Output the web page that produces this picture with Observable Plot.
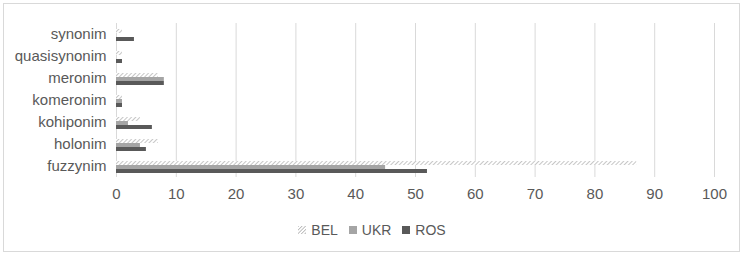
<!DOCTYPE html>
<html>
<head>
<meta charset="utf-8">
<script src="https://cdn.jsdelivr.net/npm/d3@7"></script>
<script src="https://cdn.jsdelivr.net/npm/@observablehq/plot@0.6"></script>
<style>
  html, body { margin: 0; padding: 0; background: #fff; }
  body { width: 744px; height: 256px; position: relative; overflow: hidden;
         font-family: "Liberation Sans", Arial, sans-serif; color: #595959; }
  #frame { position: absolute; left: 3px; top: 3px; width: 737px; height: 249px;
           border: 1px solid #d9d9d9; box-sizing: border-box; }
  #chart { position: absolute; left: 0; top: 0; }
  #legend { position: absolute; left: 0; top: 222px; width: 744px; display: flex;
            justify-content: center; gap: 11px; font-size: 14px; }
  #legend .item { display: flex; align-items: center; gap: 5px; }
</style>
</head>
<body>
<div id="frame"></div>
<div id="chart"></div>
<div id="legend"></div>
<script>
const categories = ["synonim", "quasisynonim", "meronim", "komeronim", "kohiponim", "holonim", "fuzzynim"];
const seriesNames = ["BEL", "UKR", "ROS"];
const BEL = [1, 1, 7, 1, 4, 7, 87];
const UKR = [0, 0, 8, 1, 2, 4, 45];
const ROS = [3, 1, 8, 1, 6, 5, 52];
const xTicks = [0, 10, 20, 30, 40, 50, 60, 70, 80, 90, 100];
const seriesColors = ["url(#hatch)", "#a5a5a5", "#595959"];

const valuesBySeries = {BEL, UKR, ROS};
const data = [];
categories.forEach((c, i) => {
  seriesNames.forEach(s => data.push({category: c, series: s, value: valuesBySeries[s][i]}));
});

const plot = Plot.plot({
  width: 744,
  height: 210,
  marginTop: 20,
  marginBottom: 30,
  marginLeft: 116,
  marginRight: 30,
  style: {fontFamily: "Liberation Sans, Arial, sans-serif", fontSize: "15px", color: "#595959", background: "transparent"},
  x: {domain: [0, 100], ticks: xTicks, tickSize: 0, tickPadding: 11, label: null},
  fy: {domain: categories, paddingInner: 0, paddingOuter: 0, axis: "left", tickSize: 0, tickPadding: 10, label: null},
  y: {domain: seriesNames, axis: null, paddingInner: 0, paddingOuter: 1.0, align: 0.62},
  color: {domain: seriesNames, range: seriesColors},
  marks: [
    Plot.ruleX(xTicks, {stroke: "#d9d9d9", strokeWidth: 1}),
    Plot.barX(data, {fy: "category", y: "series", x: "value", fill: "series", inset: 0})
  ]
});

// hatch pattern
const ns = "http://www.w3.org/2000/svg";
const defs = document.createElementNS(ns, "defs");
defs.innerHTML = `<pattern id="hatch" patternUnits="userSpaceOnUse" width="3" height="3" patternTransform="rotate(45)">
  <rect width="3" height="3" fill="#ffffff"></rect>
  <line x1="0" y1="0" x2="0" y2="3" stroke="#b3b3b3" stroke-width="1.5"></line>
</pattern>`;
plot.insertBefore(defs, plot.firstChild);
document.getElementById("chart").appendChild(plot);

// legend
const legend = document.getElementById("legend");
seriesNames.forEach((s, i) => {
  const item = document.createElement("div");
  item.className = "item";
  item.innerHTML = `<svg width="8" height="8"><defs><pattern id="lh${i}" patternUnits="userSpaceOnUse" width="2.5" height="2.5" patternTransform="rotate(45)"><rect width="3" height="3" fill="#fff"></rect><line x1="0" y1="0" x2="0" y2="3" stroke="#a0a0a0" stroke-width="1.3"></line></pattern></defs><rect width="8" height="8" fill="${i === 0 ? `url(#lh${i})` : seriesColors[i]}"></rect></svg><span>${s}</span>`;
  legend.appendChild(item);
});
</script>
</body>
</html>
